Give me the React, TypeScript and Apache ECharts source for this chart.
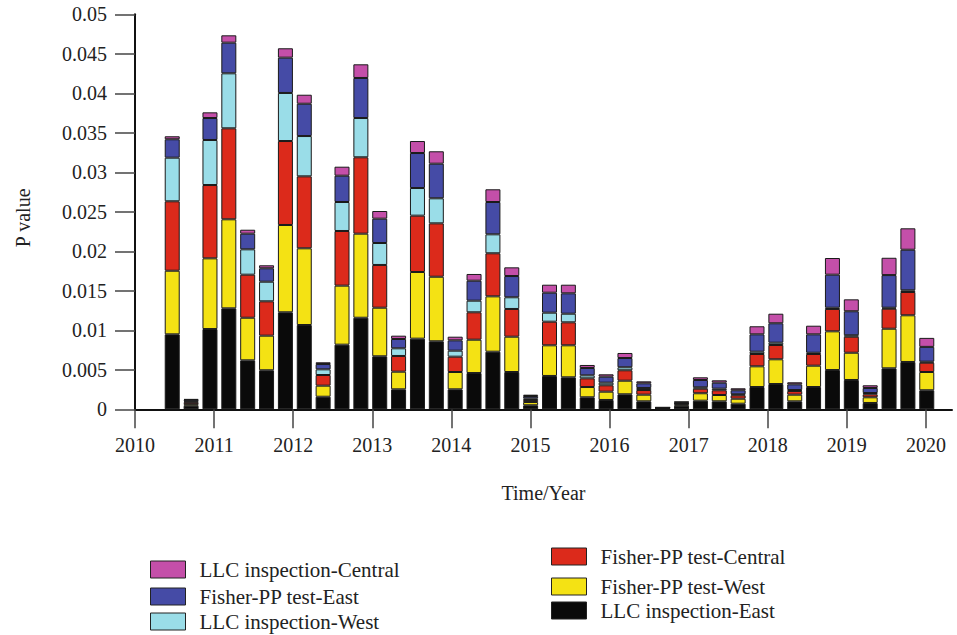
import React, { useEffect, useRef } from "react";
import * as echarts from "echarts";

const periods = [
  "T1", "T2", "T3", "T4", "T5", "T6", "T7", "T8", "T9", "T10",
  "T11", "T12", "T13", "T14", "T15", "T16", "T17", "T18", "T19", "T20",
  "T21", "T22", "T23", "T24", "T25", "T26", "T27", "T28", "T29", "T30",
  "T31", "T32", "T33", "T34", "T35", "T36", "T37", "T38", "T39", "T40", "T41",
];

const yearTicks = [2010, 2011, 2012, 2013, 2014, 2015, 2016, 2017, 2018, 2019, 2020];

const llcEast = [
  0.00949, 0.00045, 0.01016, 0.01278, 0.0062, 0.00494, 0.01228, 0.01067, 0.00159, 0.00818,
  0.01159, 0.00671, 0.00253, 0.00894, 0.00861, 0.00253, 0.00459, 0.00729, 0.00472, 0.00051,
  0.00422, 0.00405, 0.00152, 0.00118, 0.0019, 0.00101, 0.0001, 0.00045, 0.00109, 0.00101,
  0.00071, 0.00282, 0.0032, 0.00101, 0.00282, 0.00497, 0.00371, 0.0008, 0.00519, 0.00599, 0.00241,
];
const fisherWest = [
  0.00805, 0.0002, 0.00895, 0.01127, 0.00539, 0.00438, 0.01105, 0.00971, 0.0014, 0.00747,
  0.01064, 0.00615, 0.00223, 0.00844, 0.00817, 0.00219, 0.00422, 0.00701, 0.00447, 0.00041,
  0.00388, 0.00405, 0.0013, 0.00105, 0.00172, 0.00084, 0.00004, 0.00015, 0.00094, 0.0008,
  0.00063, 0.00262, 0.00313, 0.00084, 0.0027, 0.0049, 0.00345, 0.00072, 0.00501, 0.00591, 0.00231,
];
const fisherCentral = [
  0.00879, 0.00025, 0.00928, 0.01152, 0.00545, 0.00435, 0.01063, 0.00911, 0.00135, 0.00692,
  0.00967, 0.00541, 0.00199, 0.00713, 0.00676, 0.00194, 0.00347, 0.00545, 0.00351, 0.00026,
  0.00299, 0.00291, 0.0011, 0.00081, 0.00132, 0.00059, 0.00003, 0.0001, 0.00058, 0.0006,
  0.00043, 0.00156, 0.00181, 0.00047, 0.00148, 0.00283, 0.00203, 0.00038, 0.00253, 0.00295, 0.00118,
];
const llcWest = [
  0.00552, 0.0001, 0.0057, 0.00696, 0.00321, 0.00248, 0.00608, 0.0051, 0.00072, 0.00367,
  0.00497, 0.00278, 0.00097, 0.0035, 0.00317, 0.00076, 0.00147, 0.0024, 0.00148, 0.00021,
  0.00114, 0.00109, 0.00038, 0.00033, 0.00038, 0.00026, 0.00002, 0.00005, 0.00017, 0.0002,
  0.00013, 0.00029, 0.00029, 0.00012, 0.00016, 0.00016, 0.00018, 0.00016, 0.00013, 0.00021, 0.00013,
];
const fisherEast = [
  0.00233, 0.0002, 0.00278, 0.00388, 0.00198, 0.0017, 0.00447, 0.00409, 0.00067, 0.00333,
  0.00507, 0.00308, 0.00118, 0.00443, 0.00438, 0.00131, 0.00253, 0.00409, 0.00269, 0.00029,
  0.00253, 0.00258, 0.00093, 0.00076, 0.00117, 0.00059, 0.00004, 0.00015, 0.00093, 0.00076,
  0.00051, 0.0022, 0.00246, 0.00072, 0.00233, 0.00418, 0.00304, 0.00064, 0.00413, 0.00514, 0.00187,
];
const llcCentral = [
  0.00038, 0.0001, 0.00072, 0.00093, 0.0005, 0.00038, 0.00119, 0.00114, 0.00022, 0.00114,
  0.00173, 0.00097, 0.00042, 0.00152, 0.00157, 0.00046, 0.00085, 0.00161, 0.0011, 0.00017,
  0.00101, 0.00109, 0.00038, 0.0003, 0.00064, 0.00025, 0.00002, 0.00006, 0.00034, 0.0003,
  0.00025, 0.00102, 0.00121, 0.00026, 0.00109, 0.00211, 0.00151, 0.00034, 0.00219, 0.00271, 0.00114,
];

const seriesNames = [
  "LLC inspection-East",
  "Fisher-PP test-West",
  "Fisher-PP test-Central",
  "LLC inspection-West",
  "Fisher-PP test-East",
  "LLC inspection-Central",
];
const seriesData = [llcEast, fisherWest, fisherCentral, llcWest, fisherEast, llcCentral];
const seriesColors = ["#0a0a0a", "#f4e214", "#dc2a1b", "#9adde8", "#454ba6", "#c44fa9"];

const FONT = "'Liberation Serif', 'Times New Roman', serif";

export default function App() {
  const ref = useRef<HTMLDivElement>(null);

  useEffect(() => {
    if (!ref.current) return;
    const chart = echarts.init(ref.current, undefined, { renderer: "svg" });

    const legendBase = {
      orient: "vertical",
      itemWidth: 35,
      itemHeight: 17,
      icon: "rect",
      selectedMode: false,
      itemStyle: { borderColor: "#222", borderWidth: 1 },
      textStyle: { fontFamily: FONT, fontSize: 21, color: "#222", padding: [0, 0, 0, 9] },
    };
    const legendSpots: Record<string, [number, number]> = {
      "LLC inspection-Central": [145, 554],
      "Fisher-PP test-East": [145, 581],
      "LLC inspection-West": [145, 606],
      "Fisher-PP test-Central": [546, 541],
      "Fisher-PP test-West": [546, 571],
      "LLC inspection-East": [546, 595],
    };
    const legends = Object.keys(legendSpots).map((name) => ({
      ...legendBase,
      data: [name],
      left: legendSpots[name][0],
      top: legendSpots[name][1],
    }));

    const option = {
      animation: false,
      backgroundColor: "#ffffff",
      legend: legends,
      grid: [
        { left: 135, right: 5, top: 14.3, bottom: 225.7, containLabel: false },
        { left: 162.8, right: 20.8, top: 14.3, bottom: 225.7, containLabel: false },
      ],
      xAxis: [
        {
          type: "value",
          gridIndex: 0,
          min: 2010,
          max: 2020.33,
          interval: 1,
          name: "Time/Year",
          nameLocation: "middle",
          nameGap: 74,
          nameTextStyle: { fontFamily: FONT, fontSize: 20, color: "#222" },
          axisLine: { show: true, lineStyle: { color: "#111", width: 2 } },
          axisTick: {
            show: true,
            inside: false,
            length: 19,
            customValues: yearTicks,
            lineStyle: { color: "#444", width: 1.5 },
          },
          axisLabel: {
            customValues: yearTicks,
            margin: 26,
            fontFamily: FONT,
            fontSize: 20,
            color: "#222",
            formatter: (v: number) => String(v),
          },
          splitLine: { show: false },
        },
        {
          type: "category",
          gridIndex: 1,
          data: periods,
          show: false,
        },
      ],
      yAxis: [
        {
          type: "value",
          gridIndex: 0,
          min: 0,
          max: 0.05,
          interval: 0.005,
          name: "P value",
          nameLocation: "middle",
          nameGap: 102,
          nameTextStyle: { fontFamily: FONT, fontSize: 20, color: "#222", padding: [0, 12, 0, 0] },
          axisLine: { show: true, lineStyle: { color: "#111", width: 2 } },
          axisTick: { show: true, inside: false, length: 20, lineStyle: { color: "#444", width: 1.5 } },
          axisLabel: { margin: 28, fontFamily: FONT, fontSize: 20, color: "#222" },
          splitLine: { show: false },
        },
        {
          type: "value",
          gridIndex: 1,
          min: 0,
          max: 0.05,
          show: false,
          splitLine: { show: false },
        },
      ],
      series: seriesNames.map((name, i) => ({
        name,
        type: "bar",
        stack: "total",
        xAxisIndex: 1,
        yAxisIndex: 1,
        barWidth: 15,
        data: seriesData[i],
        itemStyle: { color: seriesColors[i], borderColor: "#1a1a1a", borderWidth: 1 },
        emphasis: { disabled: true },
      })),
    };

    chart.setOption(option as any);
    return () => chart.dispose();
  }, []);

  return (
    <div
      ref={ref}
      style={{ position: "absolute", left: 0, top: 0, width: 957, height: 635 }}
    />
  );
}
